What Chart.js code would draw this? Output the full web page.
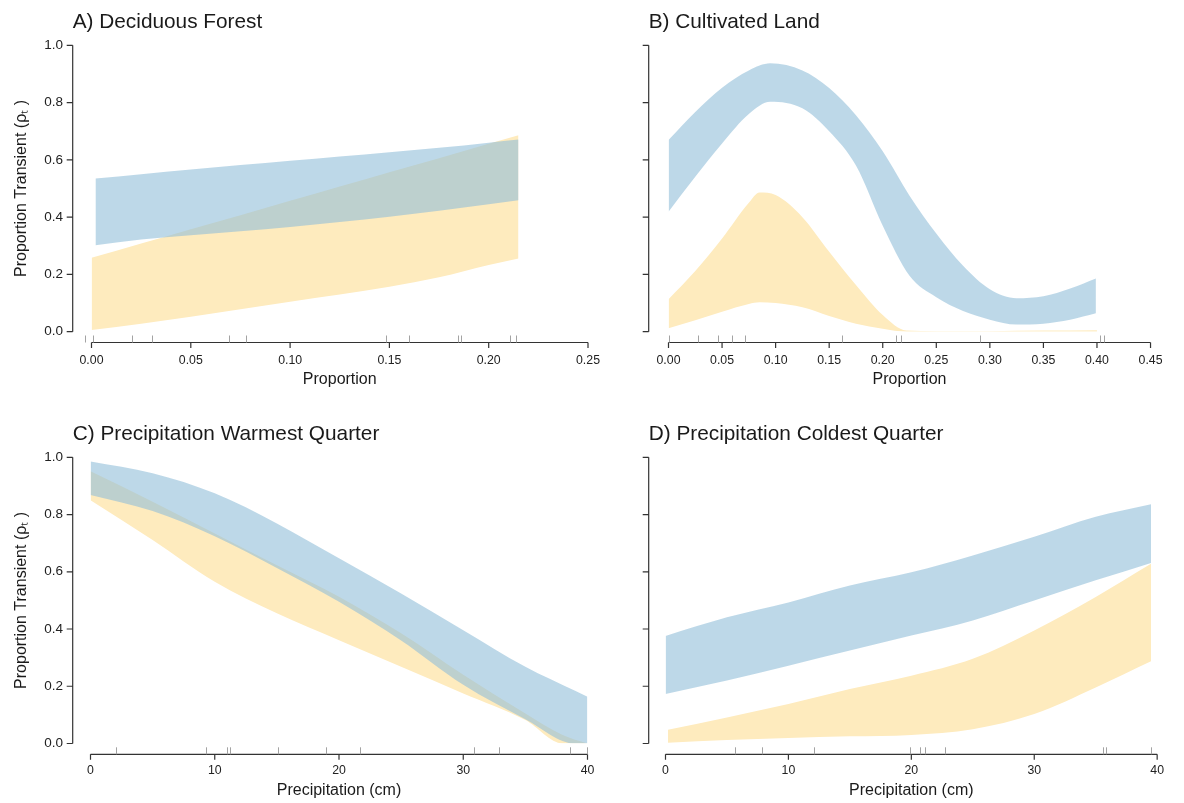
<!DOCTYPE html>
<html>
<head>
<meta charset="utf-8">
<title>Proportion transient by covariate</title>
<script src="https://cdn.jsdelivr.net/npm/chart.js@4.4.1/dist/chart.umd.min.js"></script>
<style>
  html, body { margin: 0; padding: 0; background: #ffffff; }
  #wrap { position: relative; width: 1184px; height: 803px; overflow: hidden; background: #ffffff; }
  #wrap canvas { position: absolute; left: 0; top: 0; }
</style>
</head>
<body>
<div id="wrap">
  <canvas id="panelA" width="1184" height="803"></canvas>
  <canvas id="panelB" width="1184" height="803"></canvas>
  <canvas id="panelC" width="1184" height="803"></canvas>
  <canvas id="panelD" width="1184" height="803"></canvas>
</div>
<script>
// ---------- tick values ----------
const propTicks = [0, 0.2, 0.4, 0.6, 0.8, 1.0];
const forestTicks = [0, 0.05, 0.10, 0.15, 0.20, 0.25];
const cultivatedTicks = [0, 0.05, 0.10, 0.15, 0.20, 0.25, 0.30, 0.35, 0.40, 0.45];
const precipTicks = [0, 10, 20, 30, 40];

// ---------- A) Deciduous Forest ----------
const forestBlueX  = [0.002, 0.025, 0.05, 0.075, 0.10, 0.125, 0.15, 0.175, 0.20, 0.215];
const forestBlueHi = [0.535, 0.550, 0.566, 0.582, 0.597, 0.612, 0.627, 0.642, 0.660, 0.671];
const forestBlueLo = [0.302, 0.322, 0.337, 0.351, 0.366, 0.383, 0.401, 0.422, 0.445, 0.459];
const forestGoldX  = [0, 0.025, 0.05, 0.075, 0.10, 0.125, 0.15, 0.175, 0.20, 0.215];
const forestGoldHi = [0.258, 0.308, 0.358, 0.407, 0.457, 0.507, 0.557, 0.606, 0.656, 0.686];
const forestGoldLo = [0.006, 0.028, 0.052, 0.078, 0.105, 0.130, 0.157, 0.190, 0.233, 0.256];
const forestRug    = [-0.0035, 0.0007, 0.0203, 0.0306, 0.0692, 0.0777, 0.1485, 0.1597, 0.1846, 0.1861, 0.2107, 0.2138];

// ---------- B) Cultivated Land ----------
const cultBlueX  = [0, 0.025, 0.05, 0.075, 0.095, 0.125, 0.15, 0.175, 0.20, 0.225, 0.25, 0.275, 0.30, 0.325, 0.35, 0.375, 0.399];
const cultBlueHi = [0.669, 0.767, 0.852, 0.912, 0.937, 0.912, 0.851, 0.756, 0.630, 0.475, 0.343, 0.230, 0.148, 0.117, 0.124, 0.151, 0.186];
const cultBlueLo = [0.419, 0.541, 0.657, 0.760, 0.803, 0.780, 0.700, 0.580, 0.370, 0.195, 0.120, 0.072, 0.042, 0.025, 0.028, 0.042, 0.064];
const cultGoldX  = [0, 0.025, 0.05, 0.075, 0.085, 0.10, 0.125, 0.15, 0.175, 0.20, 0.222, 0.25, 0.30, 0.35, 0.40];
const cultGoldHi = [0.113, 0.212, 0.325, 0.450, 0.486, 0.477, 0.400, 0.279, 0.163, 0.058, 0.004, 0.002, 0.002, 0.004, 0.005];
const cultGoldLo = [0.012, 0.040, 0.070, 0.097, 0.103, 0.100, 0.085, 0.055, 0.028, 0.010, 0.000, 0.000, 0.000, 0.000, 0.000];
const cultRug    = [0.0005, 0.028, 0.046, 0.0595, 0.0715, 0.162, 0.212, 0.2175, 0.2905, 0.403, 0.4065];

// ---------- C) Precipitation Warmest Quarter ----------
const warmBlueX  = [0, 5, 10, 15, 20, 25, 30, 35, 39, 40];
const warmBlueHi = [0.985, 0.944, 0.874, 0.769, 0.647, 0.524, 0.396, 0.268, 0.184, 0.163];
const warmBlueLo = [0.868, 0.812, 0.724, 0.613, 0.495, 0.360, 0.205, 0.085, 0.000, 0.000];
const warmGoldX  = [0, 5, 10, 15, 20, 25, 30, 35, 38, 40];
const warmGoldHi = [0.951, 0.845, 0.734, 0.623, 0.513, 0.385, 0.240, 0.105, 0.030, 0.000];
const warmGoldLo = [0.850, 0.711, 0.565, 0.455, 0.361, 0.268, 0.175, 0.082, 0.000, 0.000];
const warmRug    = [2.07, 9.3, 10.95, 11.2, 15.12, 18.95, 21.65, 30.87, 32.85, 38.58, 39.95];

// ---------- D) Precipitation Coldest Quarter ----------
const coldBlueX  = [0, 5, 10, 15, 20, 25, 30, 35, 39.5];
const coldBlueHi = [0.376, 0.441, 0.493, 0.552, 0.598, 0.657, 0.722, 0.792, 0.836];
const coldBlueLo = [0.173, 0.220, 0.272, 0.325, 0.377, 0.430, 0.500, 0.570, 0.631];
const coldGoldX  = [0.2, 5, 10, 15, 20, 25, 30, 35, 39.5];
const coldGoldHi = [0.048, 0.091, 0.138, 0.190, 0.237, 0.296, 0.395, 0.512, 0.628];
const coldGoldLo = [0.003, 0.012, 0.019, 0.025, 0.030, 0.050, 0.103, 0.196, 0.287];
const coldRug    = [5.64, 7.88, 12.1, 19.9, 20.7, 21.1, 22.75, 35.57, 35.85, 39.52];

// ---------- styling ----------
const FONT = '"Liberation Sans", Arial, Helvetica, sans-serif';
const BLUE_FILL = 'rgba(145, 190, 217, 0.6)';
const GOLD_FILL = 'rgb(254, 235, 190)';
const AXIS_COLOR = '#333333';
const RUG_COLOR = '#a3a3a3';
const PAGE_W = 1184, PAGE_H = 803;
const X_SCALE_H = 57;

Chart.defaults.font.family = FONT;
Chart.defaults.color = '#222222';

// Panel layout: plot area in page pixels, y-axis line position, column origin
const panels = [
  { canvas: 'panelA', title: 'A) Deciduous Forest', xTitle: 'Proportion',
    xMax: 0.25, xTicks: forestTicks, xDigits: 2, rug: forestRug,
    blue: [forestBlueX, forestBlueHi, forestBlueLo], gold: [forestGoldX, forestGoldHi, forestGoldLo],
    colLeft: 0, area: { left: 91.5, right: 588, top: 45.3, bottom: 331.7 }, axisX: 72.7,
    showY: true, yPad: 28.5, xPad: 21.5 },
  { canvas: 'panelB', title: 'B) Cultivated Land', xTitle: 'Proportion',
    xMax: 0.45, xTicks: cultivatedTicks, xDigits: 2, rug: cultRug,
    blue: [cultBlueX, cultBlueHi, cultBlueLo], gold: [cultGoldX, cultGoldHi, cultGoldLo],
    colLeft: 592, area: { left: 668.5, right: 1164.5, top: 45.3, bottom: 331.7 }, axisX: 648.7,
    showY: false, yPad: 28.5, xPad: 21.5 },
  { canvas: 'panelC', title: 'C) Precipitation Warmest Quarter', xTitle: 'Precipitation (cm)',
    xMax: 40, xTicks: precipTicks, xDigits: 0, rug: warmRug,
    blue: [warmBlueX, warmBlueHi, warmBlueLo], gold: [warmGoldX, warmGoldHi, warmGoldLo],
    colLeft: 0, area: { left: 90.5, right: 587.5, top: 457.3, bottom: 743.5 }, axisX: 72.7,
    showY: true, yPad: 27.5, xPad: 20 },
  { canvas: 'panelD', title: 'D) Precipitation Coldest Quarter', xTitle: 'Precipitation (cm)',
    xMax: 40, xTicks: precipTicks, xDigits: 0, rug: coldRug,
    blue: [coldBlueX, coldBlueHi, coldBlueLo], gold: [coldGoldX, coldGoldHi, coldGoldLo],
    colLeft: 592, area: { left: 665.5, right: 1164, top: 457.3, bottom: 743.5 }, axisX: 648.7,
    showY: false, yPad: 27.5, xPad: 20 }
];

const toPoints = (xs, ys) => xs.map((x, i) => ({ x, y: ys[i] }));

function bandDatasets(band, fillColor, name) {
  const [xs, hi, lo] = band;
  const common = {
    borderWidth: 0, borderColor: 'transparent', pointRadius: 0, pointHoverRadius: 0,
    cubicInterpolationMode: 'monotone', backgroundColor: fillColor
  };
  return [
    Object.assign({ label: name + ' upper', data: toPoints(xs, hi), fill: '+1' }, common),
    Object.assign({ label: name + ' lower', data: toPoints(xs, lo), fill: false }, common)
  ];
}

// R-style detached axes, rug marks along the x axis, and the panel heading
function axesPlugin(spec) {
  return {
    id: 'rStyleAxes',
    afterDraw(chart) {
      const { ctx, chartArea } = chart;
      const xs = chart.scales.x, ys = chart.scales.y;
      const ax = spec.axisX;
      const ay = chartArea.bottom + 10.8;
      ctx.save();
      ctx.strokeStyle = AXIS_COLOR;
      ctx.lineWidth = 1.2;
      ctx.beginPath();
      ctx.moveTo(ax, ys.getPixelForValue(0));
      ctx.lineTo(ax, ys.getPixelForValue(1));
      ys.ticks.forEach(t => {
        const py = ys.getPixelForValue(t.value);
        ctx.moveTo(ax, py);
        ctx.lineTo(ax - 6, py);
      });
      const tx = xs.ticks.map(t => xs.getPixelForValue(t.value));
      ctx.moveTo(tx[0], ay);
      ctx.lineTo(tx[tx.length - 1], ay);
      tx.forEach(px => { ctx.moveTo(px, ay); ctx.lineTo(px, ay + 5.5); });
      ctx.stroke();

      ctx.strokeStyle = RUG_COLOR;
      ctx.lineWidth = 1;
      ctx.beginPath();
      spec.rug.forEach(v => {
        const px = Math.round(xs.getPixelForValue(v)) + 0.5;
        ctx.moveTo(px, ay);
        ctx.lineTo(px, ay - 7);
      });
      ctx.stroke();

      ctx.fillStyle = '#1a1a1a';
      ctx.font = '20.8px ' + FONT;
      ctx.textAlign = 'left';
      ctx.textBaseline = 'alphabetic';
      ctx.fillText(spec.title, ax, chartArea.top - 17);
      ctx.restore();
    }
  };
}

panels.forEach(spec => {
  const a = spec.area;
  new Chart(document.getElementById(spec.canvas), {
    type: 'line',
    data: {
      datasets: [
        ...bandDatasets(spec.blue, BLUE_FILL, 'blue'),
        ...bandDatasets(spec.gold, GOLD_FILL, 'gold')
      ]
    },
    options: {
      responsive: false,
      devicePixelRatio: 1,
      animation: false,
      events: [],
      layout: {
        autoPadding: false,
        padding: {
          left: spec.colLeft,
          right: PAGE_W - a.right,
          top: a.top,
          bottom: PAGE_H - a.bottom - X_SCALE_H
        }
      },
      plugins: { legend: { display: false }, tooltip: { enabled: false }, title: { display: false } },
      scales: {
        x: {
          type: 'linear', min: 0, max: spec.xMax,
          grid: { display: false, drawTicks: false }, border: { display: false },
          afterBuildTicks: s => { s.ticks = spec.xTicks.map(v => ({ value: v })); },
          afterFit: s => { s.height = X_SCALE_H; },
          ticks: {
            padding: spec.xPad, maxRotation: 0, autoSkip: false,
            font: { size: 12.3, family: FONT }, color: '#222222',
            callback: v => Number(v).toFixed(spec.xDigits)
          },
          title: { display: true, text: spec.xTitle, font: { size: 16, family: FONT }, color: '#1a1a1a',
                   padding: { top: 0, bottom: 0 } }
        },
        y: {
          type: 'linear', min: 0, max: 1,
          grid: { display: false, drawTicks: false }, border: { display: false },
          afterBuildTicks: s => { s.ticks = propTicks.map(v => ({ value: v })); },
          afterFit: s => { s.width = a.left - spec.colLeft; },
          ticks: {
            display: spec.showY, padding: spec.yPad,
            font: { size: 13.5, family: FONT }, color: '#222222',
            callback: v => Number(v).toFixed(1)
          },
          title: { display: spec.showY, text: 'Proportion Transient (\u03C1\u209C )',
                   font: { size: 16, family: FONT }, color: '#1a1a1a',
                   padding: { top: 11.5, bottom: 0 } }
        }
      }
    },
    plugins: [axesPlugin(spec)]
  });
});
</script>
</body>
</html>
